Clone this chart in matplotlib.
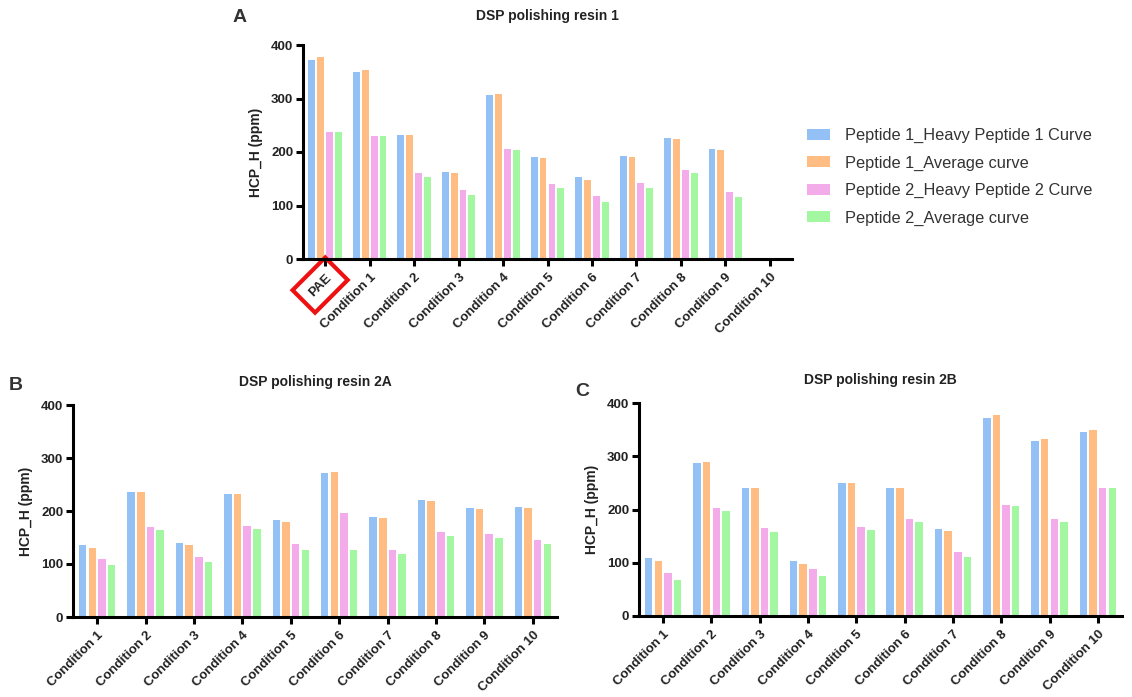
import numpy as np
import matplotlib
matplotlib.use("Agg")
import matplotlib.pyplot as plt
from matplotlib.patches import Patch

plt.rcParams['font.family'] = ['Liberation Sans', 'DejaVu Sans']

series_names = ["Peptide 1_Heavy Peptide 1 Curve", "Peptide 1_Average curve",
                "Peptide 2_Heavy Peptide 2 Curve", "Peptide 2_Average curve"]
colors = ["#93c1f6", "#ffbd84", "#f4abe9", "#a2f7a0"]

cats_a = ["PAE", "Condition 1", "Condition 2", "Condition 3", "Condition 4", "Condition 5",
          "Condition 6", "Condition 7", "Condition 8", "Condition 9", "Condition 10"]
a_p1_heavy = [372, 349, 232, 163, 306, 190, 153, 192, 227, 205, np.nan]
a_p1_avg   = [378, 354, 232, 160, 308, 188, 148, 190, 225, 203, np.nan]
a_p2_heavy = [237, 230, 161, 129, 205, 141, 117, 142, 166, 126, np.nan]
a_p2_avg   = [237, 229, 153, 120, 203, 132, 106, 133, 160, 116, np.nan]

cats_bc = ["Condition 1", "Condition 2", "Condition 3", "Condition 4", "Condition 5",
           "Condition 6", "Condition 7", "Condition 8", "Condition 9", "Condition 10"]
b_p1_heavy = [135, 236, 139, 233, 183, 272, 188, 220, 205, 207]
b_p1_avg   = [130, 236, 135, 233, 180, 273, 186, 219, 203, 205]
b_p2_heavy = [109, 170, 114, 171, 137, 197, 127, 160, 156, 146]
b_p2_avg   = [98, 164, 104, 166, 127, 127, 118, 153, 149, 138]

c_p1_heavy = [109, 287, 241, 103, 250, 241, 164, 371, 328, 346]
c_p1_avg   = [103, 290, 241, 97, 250, 241, 160, 377, 332, 350]
c_p2_heavy = [80, 202, 165, 89, 167, 182, 120, 209, 182, 240]
c_p2_avg   = [67, 198, 158, 76, 161, 177, 110, 207, 177, 240]

W, H = 1132, 697
fig = plt.figure(figsize=(W / 100, H / 100), dpi=100)

def px_axes(left, right, top, bottom):
    return fig.add_axes([left / W, 1 - bottom / H, (right - left) / W, (bottom - top) / H])

def draw_panel(ax, cats, data, title, title_pad=14):
    x = np.arange(len(cats))
    slot, bw = 0.2, 0.155
    for i, (vals, col) in enumerate(zip(data, colors)):
        ax.bar(x + (i - 1.5) * slot, vals, width=bw, color=col, linewidth=0)
    ax.set_xlim(-0.5, len(cats) - 0.5)
    ax.set_ylim(0, 400)
    ax.set_yticks([0, 100, 200, 300, 400])
    ax.set_xticks(x)
    ax.set_xticklabels(cats, rotation=45, ha='right', va='top', rotation_mode='anchor',
                       fontsize=9.5, fontweight='bold', color='#222222')
    for lab in ax.get_yticklabels():
        lab.set_fontsize(9.5)
        lab.set_fontweight('bold')
        lab.set_color('#222222')
    for s in ['top', 'right']:
        ax.spines[s].set_visible(False)
    for s in ['left', 'bottom']:
        ax.spines[s].set_linewidth(2.2)
        ax.spines[s].set_color('black')
    ax.tick_params(axis='both', direction='out', length=5, width=2.2, pad=2)
    ax.tick_params(axis='x', pad=4)
    ax.set_ylabel("HCP_H (ppm)", fontsize=10, fontweight='bold', color='#222222', labelpad=6)
    ax.set_title(title, fontsize=10, fontweight='bold', color='#222222', pad=title_pad)

axA = px_axes(303, 792, 45, 259)
draw_panel(axA, cats_a, [a_p1_heavy, a_p1_avg, a_p2_heavy, a_p2_avg], "DSP polishing resin 1",
           title_pad=18)

# red box around the PAE label
pae = axA.get_xticklabels()[0]
pae.set_bbox(dict(boxstyle='square,pad=0.75', fc='none', ec='#ee1111', lw=3))

axB = px_axes(73, 557, 405, 617)
draw_panel(axB, cats_bc, [b_p1_heavy, b_p1_avg, b_p2_heavy, b_p2_avg], "DSP polishing resin 2A")

axC = px_axes(639, 1122, 403, 616)
draw_panel(axC, cats_bc, [c_p1_heavy, c_p1_avg, c_p2_heavy, c_p2_avg], "DSP polishing resin 2B")

# panel letters
fig.text(240 / W, 1 - 18 / H, "A", fontsize=14, fontweight='bold', color='#333333', ha='center', va='center')
fig.text(16 / W, 1 - 386 / H, "B", fontsize=14, fontweight='bold', color='#333333', ha='center', va='center')
fig.text(582 / W, 1 - 391 / H, "C", fontsize=14, fontweight='bold', color='#333333', ha='center', va='center')

handles = [Patch(facecolor=c, edgecolor='none') for c in colors]
fig.legend(handles, series_names, loc='center left', bbox_to_anchor=(800 / W, 1 - 177 / H),
           frameon=False, fontsize=11.8, handlelength=1.4, handleheight=0.65,
           handletextpad=0.95, labelspacing=0.75, labelcolor='#333333', borderaxespad=0)

fig.savefig("out.png", dpi=100)
